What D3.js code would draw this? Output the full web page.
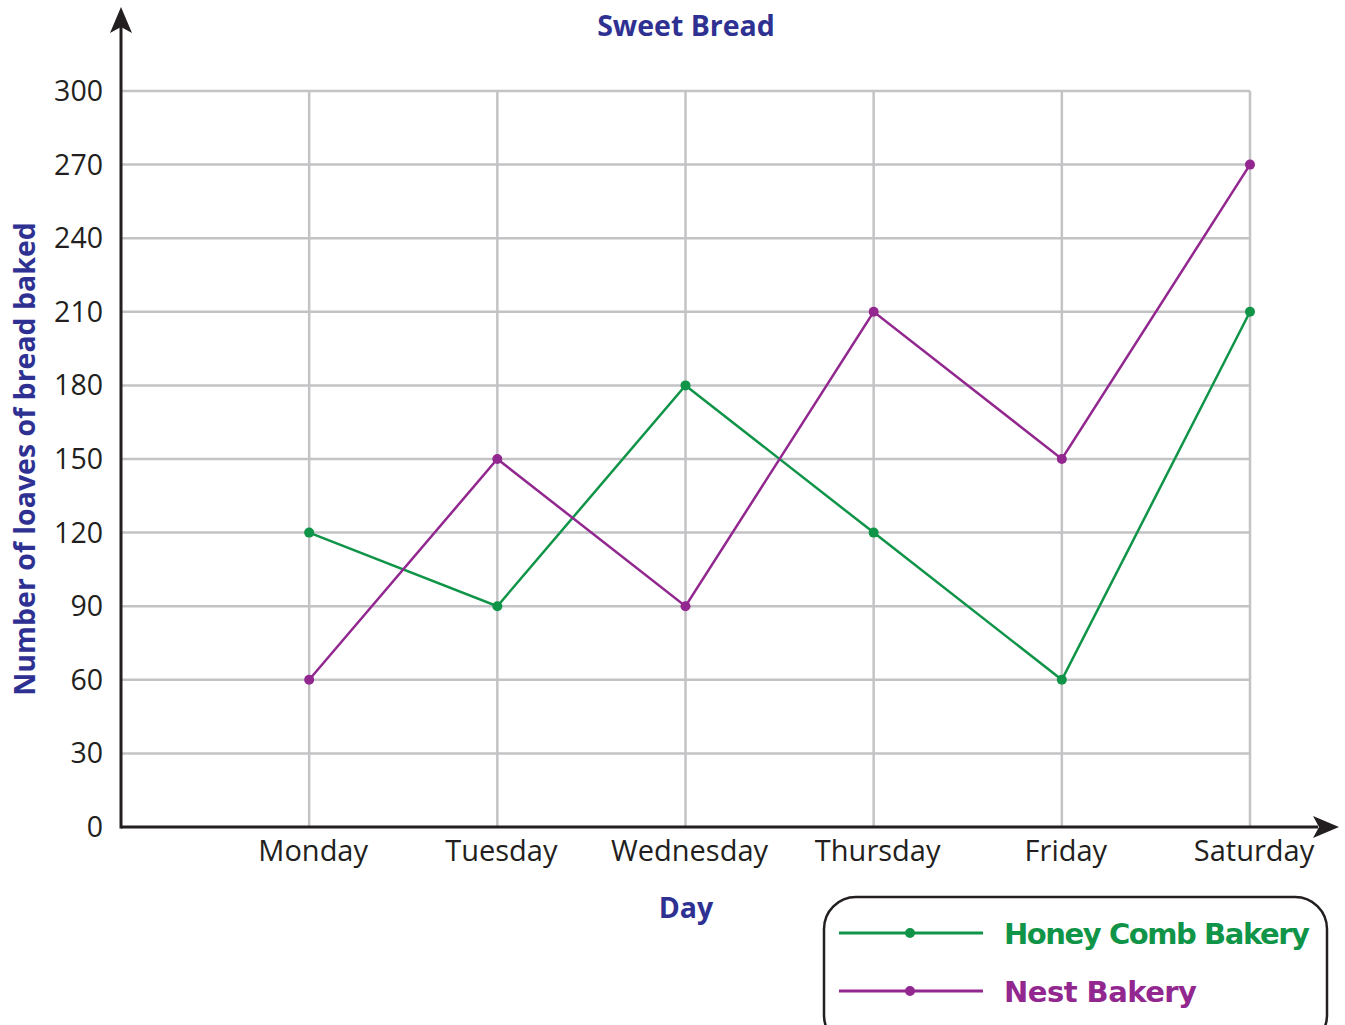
<!DOCTYPE html>
<html><head><meta charset="utf-8">
<script src="https://cdn.jsdelivr.net/npm/d3@7"></script>
<style>body{margin:0;background:#fff}svg{display:block}</style>
</head><body><svg id="c" width="1345" height="1025"></svg>
<script>
const days = ["Monday","Tuesday","Wednesday","Thursday","Friday","Saturday"];
const honeyComb = [120, 90, 180, 120, 60, 210];
const nest = [60, 150, 90, 210, 150, 270];
const yTicks = [0,30,60,90,120,150,180,210,240,270,300];
const seriesNames = ["Honey Comb Bakery","Nest Bakery"];
const colors = ["#0f9448","#92278f"];

const svg = d3.select("#c");
const font = "'Open Sans','Noto Sans',sans-serif";
const x = d3.scaleLinear().domain([0, 6]).range([121, 1250]);
const y = d3.scaleLinear().domain([0, 300]).range([827, 91]);

// grid
const g = svg.append("g");
g.selectAll("line.h").data(yTicks.filter(d=>d>0)).join("line")
  .attr("x1", x(0)).attr("x2", x(6)).attr("y1", d=>y(d)).attr("y2", d=>y(d))
  .attr("stroke","#c3c3c6").attr("stroke-width",2.5);
g.selectAll("line.v").data(days).join("line")
  .attr("x1",(d,i)=>x(i+1)).attr("x2",(d,i)=>x(i+1)).attr("y1",y(300)).attr("y2",y(0))
  .attr("stroke","#c3c3c6").attr("stroke-width",2.5);

// axes
const axCol = "#231f20";
svg.append("line").attr("x1",x(0)).attr("x2",1318).attr("y1",y(0)).attr("y2",y(0)).attr("stroke",axCol).attr("stroke-width",3);
svg.append("line").attr("x1",x(0)).attr("x2",x(0)).attr("y1",y(0)+1.5).attr("y2",26).attr("stroke",axCol).attr("stroke-width",3);
svg.append("path").attr("d",`M${x(0)},7 L${x(0)+11},33 L${x(0)},27 L${x(0)-11},33 Z`).attr("fill",axCol);
svg.append("path").attr("d",`M1339,${y(0)} L1313,${y(0)-11} L1319,${y(0)} L1313,${y(0)+11} Z`).attr("fill",axCol);

// y tick labels
svg.selectAll("text.yt").data(yTicks).join("text")
  .attr("x",103).attr("y",d=>y(d)+10).attr("text-anchor","end")
  .attr("font-family",font).attr("font-size",28.5).attr("fill",axCol).text(d=>d);
// x tick labels
svg.selectAll("text.xt").data(days).join("text")
  .attr("x",(d,i)=>x(i+1)+4).attr("y",861).attr("text-anchor","middle")
  .attr("font-family",font).attr("font-size",29).attr("fill",axCol).text(d=>d);

// titles
const tc = "#2e3192";
svg.append("text").attr("x",686).attr("y",36).attr("text-anchor","middle").attr("font-family",font)
  .attr("font-weight","bold").attr("font-size",28.5).attr("fill",tc).text("Sweet Bread");
svg.append("text").attr("x",686).attr("y",918).attr("text-anchor","middle").attr("font-family",font)
  .attr("font-weight","bold").attr("font-size",28.5).attr("fill",tc).text("Day");
svg.append("text").attr("transform","translate(35,459) rotate(-90)").attr("text-anchor","middle").attr("font-family",font)
  .attr("font-weight","bold").attr("font-size",28.5).attr("fill",tc).text("Number of loaves of bread baked");

// series
const line = d3.line().x((d,i)=>x(i+1)).y(d=>y(d));
[honeyComb, nest].forEach((s,k)=>{
  svg.append("path").attr("d",line(s)).attr("fill","none").attr("stroke",colors[k]).attr("stroke-width",2.5);
  svg.selectAll(null).data(s).join("circle").attr("cx",(d,i)=>x(i+1)).attr("cy",d=>y(d)).attr("r",5).attr("fill",colors[k]);
});

// legend
svg.append("rect").attr("x",824).attr("y",897).attr("width",503).attr("height",150).attr("rx",32)
  .attr("fill","none").attr("stroke",axCol).attr("stroke-width",2.5);
const lf = "'Comic Sans MS','DejaVu Sans',sans-serif";
const widths = [306, 193];
seriesNames.forEach((n,k)=>{
  const ly = 933 + k*58;
  svg.append("line").attr("x1",839).attr("x2",983).attr("y1",ly).attr("y2",ly).attr("stroke",colors[k]).attr("stroke-width",3);
  svg.append("circle").attr("cx",910).attr("cy",ly).attr("r",5).attr("fill",colors[k]);
  svg.append("text").attr("x",1004).attr("y",ly+11).attr("font-family",lf).attr("font-weight","bold")
    .attr("font-size",29).attr("textLength",widths[k]).attr("lengthAdjust","spacing").attr("fill",colors[k]).text(n);
});
</script></body></html>
